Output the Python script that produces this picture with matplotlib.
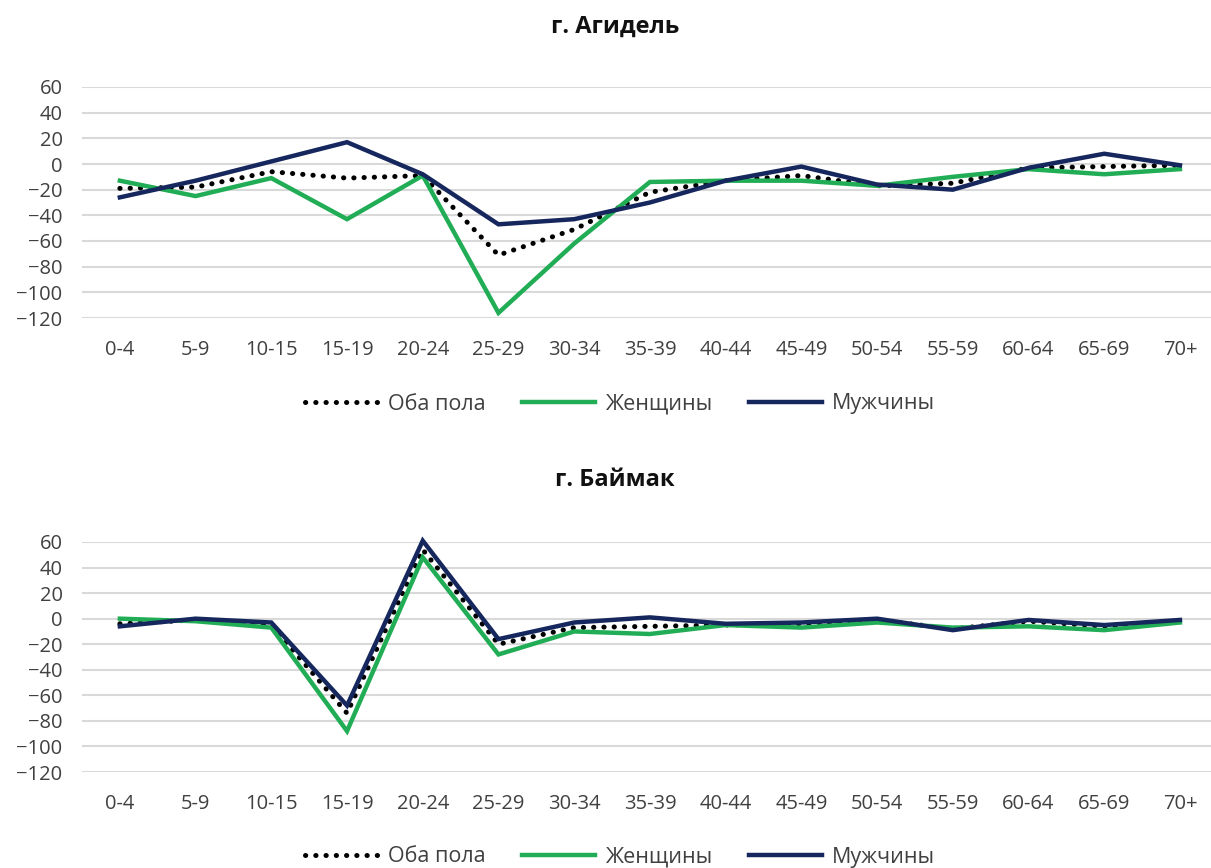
import matplotlib.pyplot as plt

plt.rcParams['font.family'] = ['Open Sans', 'DejaVu Sans']

ages = ["0-4", "5-9", "10-15", "15-19", "20-24", "25-29", "30-34", "35-39",
        "40-44", "45-49", "50-54", "55-59", "60-64", "65-69", "70+"]

# г. Агидель
agidel_both = [-19, -18, -6, -11, -9, -71, -51, -22, -13, -9, -17, -15, -3, -2, -1]
agidel_women = [-13, -25, -11, -43, -9, -116, -62, -14, -13, -13, -17, -10, -4, -8, -4]
agidel_men = [-26, -13, 2, 17, -8, -47, -43, -30, -13, -2, -16, -20, -3, 8, -1]

# г. Баймак
baymak_both = [-4, -1, -5, -74, 54, -20, -7, -6, -5, -4, -1, -8, -2, -6, -2]
baymak_women = [0, -2, -7, -88, 48, -28, -10, -12, -5, -7, -3, -7, -6, -9, -3]
baymak_men = [-6, 0, -3, -68, 61, -16, -3, 1, -4, -3, 0, -9, -1, -5, -1]

charts = [
    ("г. Агидель", agidel_both, agidel_women, agidel_men),
    ("г. Баймак", baymak_both, baymak_women, baymak_men),
]

GREEN = "#21ad55"
NAVY = "#15275d"
GRID = "#d9d9d9"

fig = plt.figure(figsize=(12.11, 8.68), dpi=100)

# [left, bottom, width, height], title y, legend y  (figure fractions)
layout = [
    ([82 / 1211, 550 / 868, 1129 / 1211, 231 / 868], 841 / 868, 464 / 868),
    ([82 / 1211, 96 / 868, 1129 / 1211, 230 / 868], 388 / 868, 11 / 868),
]

x = list(range(len(ages)))

for (title, both, women, men), (rect, ty, ly) in zip(charts, layout):
    ax = fig.add_axes(rect)
    ax.plot(x, both, color="black", lw=3.6, linestyle=(0, (0.05, 2.0)),
            dash_capstyle="round", label="Оба пола", zorder=3, clip_on=False)
    ax.plot(x, women, color=GREEN, lw=3.2, label="Женщины", zorder=4,
            clip_on=False, solid_joinstyle="miter")
    ax.plot(x, men, color=NAVY, lw=3.2, label="Мужчины", zorder=5,
            clip_on=False, solid_joinstyle="miter")

    ax.set_ylim(-120, 60)
    ax.set_yticks(range(-120, 61, 20))
    ax.set_xlim(-0.5, 14.41)
    ax.set_xticks(x)
    ax.set_xticklabels(ages)
    ax.grid(axis="y", color=GRID, lw=1.5)
    ax.set_axisbelow(True)
    for s in ax.spines.values():
        s.set_visible(False)
    ax.tick_params(axis="both", length=0, labelsize=14.5, colors="#404040")
    ax.tick_params(axis="x", pad=16)
    ax.tick_params(axis="y", pad=14)

    fig.text(0.508, ty, title, ha="center", va="center", fontsize=17,
             fontweight="bold", color="#111111")
    fig.legend(*ax.get_legend_handles_labels(), loc="center",
               bbox_to_anchor=(0.512, ly), ncol=3, frameon=False,
               fontsize=15.5, handlelength=3.4, handletextpad=0.45,
               columnspacing=1.7, labelcolor="#404040")

fig.savefig("out.png", dpi=100)
